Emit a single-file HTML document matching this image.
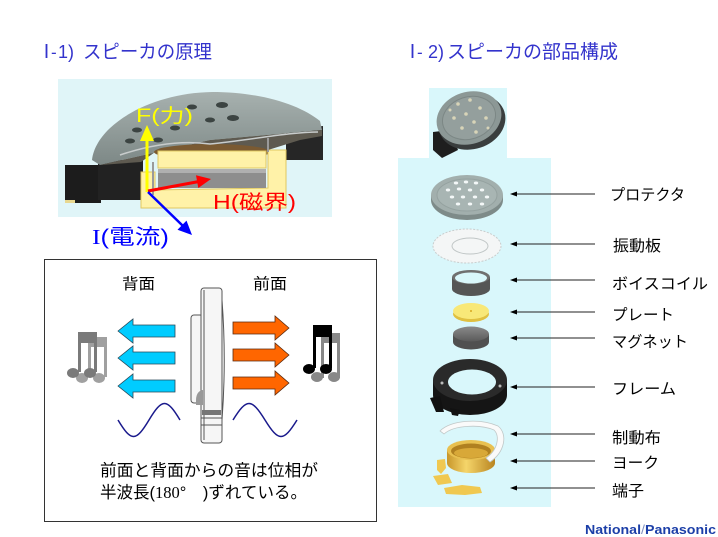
<!DOCTYPE html>
<html><head><meta charset="utf-8"><style>
html,body{margin:0;padding:0;background:#fff;}
svg{display:block;}
text{font-family:"Liberation Sans","Noto Sans CJK JP",sans-serif;}
</style></head><body>
<svg width="718" height="537" viewBox="0 0 718 537" xmlns="http://www.w3.org/2000/svg">
<defs>
<linearGradient id="lid" x1="0" y1="0" x2="0" y2="1"><stop offset="0" stop-color="#a7b1af"/><stop offset="1" stop-color="#7d8886"/></linearGradient>
<linearGradient id="gold" x1="0" y1="0" x2="1" y2="0"><stop offset="0" stop-color="#c8962a"/><stop offset="0.4" stop-color="#f5d56a"/><stop offset="1" stop-color="#b88420"/></linearGradient>
<linearGradient id="mag" x1="0" y1="0" x2="0" y2="1"><stop offset="0" stop-color="#8a8a8a"/><stop offset="1" stop-color="#5a5a5a"/></linearGradient>
</defs>

<!-- Titles -->
<g fill="#3333cc" font-size="19">
<text x="37" y="58" font-family="Liberation Serif,serif">Ⅰ</text>
<text x="51" y="58" font-family="Liberation Serif,serif" font-size="17">-</text>
<text x="58" y="58" font-family="Liberation Serif,serif" font-size="18">1)</text>
<text x="83" y="58" textLength="129" lengthAdjust="spacingAndGlyphs">スピーカの原理</text>
<text x="403" y="58" font-family="Liberation Serif,serif">Ⅰ</text>
<text x="417" y="58" font-family="Liberation Serif,serif" font-size="17">-</text>
<text x="428" y="58" font-family="Liberation Serif,serif" font-size="18">2)</text>
<text x="447" y="58" textLength="171" lengthAdjust="spacingAndGlyphs">スピーカの部品構成</text>
</g>

<!-- Left speaker cross-section image -->
<rect x="58" y="79" width="274" height="138" fill="#e0f5f8"/>
<rect x="65" y="165" width="36" height="38" fill="#1c1c1c"/>
<rect x="65" y="200" width="10" height="3" fill="#e8d890"/>
<rect x="98" y="160" width="45" height="40" fill="#222"/>
<polygon points="286,130 323,126 323,160 286,160" fill="#262626"/>
<path d="M92,160 C96,125 150,93 212,92 C262,92 300,105 320,121 L322,130 L210,140 L100,165 Z" fill="url(#lid)"/>
<path d="M100,165 L210,140 L322,130 L322,136 L300,140 L268,150 L158,150 L141,162 Z" fill="#5e5a50"/>
<ellipse cx="212" cy="152" rx="58" ry="8" fill="#7a5a32"/>
<path d="M120,155 C150,145 180,140 210,144 C250,140 290,132 318,132" stroke="#c8cccc" stroke-width="1.5" fill="none"/>
<g fill="#3c4442">
<ellipse cx="222" cy="105" rx="6" ry="3"/><ellipse cx="192" cy="107" rx="5" ry="2.5"/><ellipse cx="233" cy="118" rx="6" ry="3"/>
<ellipse cx="137" cy="130" rx="5" ry="2.5"/><ellipse cx="130" cy="141" rx="5" ry="2.5"/><ellipse cx="175" cy="128" rx="5" ry="2.5"/>
<ellipse cx="210" cy="120" rx="5" ry="2.5"/><ellipse cx="158" cy="140" rx="5" ry="2.5"/>
</g>
<polygon points="141,172 141,208 286,208 286,150 268,150 268,188 155,190 155,172" fill="#fff2a8" stroke="#e0c860" stroke-width="1"/>
<rect x="158" y="151" width="108" height="17" fill="#fff2a8" stroke="#e0c860" stroke-width="1"/>
<rect x="158" y="169" width="108" height="19" fill="#8e8e8e"/>
<rect x="158" y="169" width="108" height="4" fill="#b0b0b0"/>
<line x1="153" y1="162" x2="153" y2="195" stroke="#9a9a9a" stroke-width="2"/>
<line x1="268" y1="138" x2="268" y2="152" stroke="#9a9a9a" stroke-width="2"/>

<!-- Vector arrows -->
<line x1="147" y1="192" x2="147" y2="138" stroke="#ffff00" stroke-width="3"/>
<polygon points="147,125 140,141 154,141" fill="#ffff00"/>
<line x1="148" y1="191" x2="199" y2="181.5" stroke="#ff0000" stroke-width="3"/>
<polygon points="211,179 198.3,188 196,175.2" fill="#ff0000"/>
<line x1="148" y1="192" x2="183" y2="226" stroke="#0000ff" stroke-width="2.5"/>
<polygon points="192,235 177.5,229.8 186.5,220.6" fill="#0000ff"/>
<text x="136" y="122" font-size="19" fill="#ffff00" textLength="57" lengthAdjust="spacingAndGlyphs">F(力)</text>
<text x="213" y="209" font-size="20" fill="#ff0000" textLength="83" lengthAdjust="spacingAndGlyphs">H(磁界)</text>
<text x="92" y="244" font-size="21" fill="#0000ff" textLength="77" lengthAdjust="spacingAndGlyphs"><tspan font-family="Liberation Serif,serif">I</tspan>(電流)</text>

<!-- Box -->
<rect x="44.5" y="259.5" width="332" height="262" fill="#fff" stroke="#333" stroke-width="1"/>
<text x="122" y="289" font-size="15.5" fill="#000" textLength="33" lengthAdjust="spacingAndGlyphs">背面</text>
<text x="253" y="289" font-size="15.5" fill="#000" textLength="34" lengthAdjust="spacingAndGlyphs">前面</text>

<!-- cyan arrows -->
<g fill="#00ccff" stroke="#2a4a5a" stroke-width="0.8">
<polygon points="118,331 133,319 133,325 175,325 175,337 133,337 133,343"/>
<polygon points="118,358 133,346 133,352 175,352 175,364 133,364 133,370"/>
<polygon points="118,386 133,374 133,380 175,380 175,392 133,392 133,398"/>
</g>
<g fill="#ff6600" stroke="#5a2a10" stroke-width="0.8">
<polygon points="289,328 275,316 275,322 233,322 233,334 275,334 275,340"/>
<polygon points="289,355 275,343 275,349 233,349 233,361 275,361 275,367"/>
<polygon points="289,383 275,371 275,377 233,377 233,389 275,389 275,395"/>
</g>

<!-- notes left (gray) -->
<g fill="#a0a0a0">
<rect x="88" y="337" width="19" height="10"/>
<rect x="88" y="337" width="3" height="40"/><rect x="104" y="337" width="3" height="40"/>
<ellipse cx="82" cy="378" rx="6" ry="5"/><ellipse cx="99" cy="378" rx="6" ry="5"/>
</g>
<g fill="#7a7a7a">
<rect x="78" y="332" width="19" height="11"/>
<rect x="78" y="332" width="3" height="40"/><rect x="94" y="332" width="3" height="40"/>
<ellipse cx="73" cy="373" rx="6" ry="5"/><ellipse cx="90" cy="373" rx="6" ry="5"/>
</g>
<!-- notes right (black) -->
<g fill="#888">
<rect x="321" y="333" width="19" height="10"/>
<rect x="321" y="333" width="3" height="45"/><rect x="337" y="333" width="3" height="45"/>
<ellipse cx="317" cy="377" rx="6" ry="5"/><ellipse cx="334" cy="377" rx="6" ry="5"/>
</g>
<g fill="#000">
<rect x="313" y="325" width="19" height="12"/>
<rect x="313" y="325" width="3" height="43"/><rect x="329" y="325" width="3" height="43"/>
<ellipse cx="309" cy="369" rx="6" ry="5"/><ellipse cx="326" cy="369" rx="6" ry="5"/>
</g>

<!-- sine waves -->
<path d="M118,420 C131.2,442 135.8,442 149,420 C162.2,398 166.8,398 180,420" stroke="#1a1a8c" stroke-width="1.5" fill="none"/>
<path d="M233,420 C246.6,398 251.4,398 265,420 C278.6,442 283.4,442 297,420" stroke="#1a1a8c" stroke-width="1.5" fill="none"/>

<!-- speaker side view -->
<g stroke="#555" stroke-width="1" fill="#f6f6f6">
<rect x="191" y="315" width="12" height="88" rx="3"/>
<rect x="201" y="288" width="21" height="155" rx="3"/>
<line x1="204" y1="290" x2="204" y2="440"/>
<path d="M222,300 C225,340 225,380 222,420" fill="none"/>
<line x1="201" y1="418" x2="222" y2="418"/>
<line x1="201" y1="425" x2="222" y2="425"/>
</g>
<rect x="202" y="410" width="19" height="5" fill="#777"/>
<path d="M196,400 C196,393 200,390 203,390 L203,405 L196,405 Z" fill="#999"/>

<text x="100" y="476" font-size="16.5" fill="#000" textLength="218" lengthAdjust="spacingAndGlyphs">前面と背面からの音は位相が</text>
<text x="100" y="498" font-size="16.5" fill="#000" textLength="207" lengthAdjust="spacingAndGlyphs">半波長(<tspan font-family="Liberation Serif,serif">180</tspan>°　)ずれている。</text>

<!-- Right panel -->
<rect x="429" y="88" width="78" height="71" fill="#d9f7fb"/>
<rect x="398" y="158" width="153" height="349" fill="#d9f7fb"/>

<!-- assembled speaker -->
<path d="M433,132 L450,130 L458,150 L442,158 L433,150 Z" fill="#1e1e1e"/>
<ellipse cx="472" cy="122" rx="34" ry="27" transform="rotate(-18 472 122)" fill="#3a3e3e"/>
<ellipse cx="469" cy="118" rx="33" ry="26" transform="rotate(-18 469 118)" fill="#8c9896"/>
<ellipse cx="469" cy="118" rx="27" ry="21" transform="rotate(-18 469 118)" fill="#949f9d" stroke="#7c8785" stroke-width="1"/>
<g fill="#d8d4b8">
<circle cx="458" cy="104" r="1.8"/><circle cx="470" cy="100" r="1.8"/><circle cx="480" cy="108" r="1.8"/><circle cx="466" cy="114" r="1.8"/>
<circle cx="454" cy="118" r="1.8"/><circle cx="474" cy="122" r="1.8"/><circle cx="486" cy="118" r="1.8"/><circle cx="462" cy="128" r="1.8"/>
<circle cx="476" cy="132" r="1.8"/><circle cx="450" cy="110" r="1.5"/><circle cx="488" cy="128" r="1.5"/>
</g>

<!-- protector -->
<ellipse cx="467" cy="200" rx="36" ry="20" fill="#7e8b89"/>
<rect x="431" y="195" width="72" height="5" fill="#7e8b89"/>
<ellipse cx="467" cy="195" rx="36" ry="20" fill="#a2afad"/>
<ellipse cx="467" cy="195" rx="30" ry="16" fill="#a8b5b3" stroke="#95a2a0" stroke-width="1"/>
<g fill="#f4f8f8">
<ellipse cx="456" cy="183" rx="2.2" ry="1.5"/><ellipse cx="466" cy="182" rx="2.2" ry="1.5"/><ellipse cx="476" cy="183" rx="2.2" ry="1.5"/>
<ellipse cx="448" cy="190" rx="2.2" ry="1.5"/><ellipse cx="459" cy="189" rx="2.2" ry="1.5"/><ellipse cx="470" cy="190" rx="2.2" ry="1.5"/><ellipse cx="482" cy="190" rx="2.2" ry="1.5"/>
<ellipse cx="452" cy="197" rx="2.2" ry="1.5"/><ellipse cx="463" cy="197" rx="2.2" ry="1.5"/><ellipse cx="475" cy="197" rx="2.2" ry="1.5"/><ellipse cx="487" cy="197" rx="2.2" ry="1.5"/>
<ellipse cx="458" cy="204" rx="2.2" ry="1.5"/><ellipse cx="470" cy="204" rx="2.2" ry="1.5"/><ellipse cx="482" cy="204" rx="2.2" ry="1.5"/>
</g>

<!-- diaphragm -->
<ellipse cx="467" cy="246" rx="34" ry="17" fill="#f4f6f6" stroke="#c8cccc" stroke-width="1" stroke-dasharray="2 1.5"/>
<ellipse cx="470" cy="246" rx="18" ry="8" fill="none" stroke="#c0c6c6" stroke-width="1"/>

<!-- voice coil -->
<path d="M452,277 L452,289 A19,7 0 0 0 490,289 L490,277" fill="#555"/>
<ellipse cx="471" cy="277" rx="19" ry="7" fill="#707070"/>
<ellipse cx="471" cy="278" rx="16" ry="5.5" fill="#d9f7fb"/>

<!-- plate -->
<ellipse cx="471" cy="314" rx="18" ry="8" fill="#e0c040"/>
<ellipse cx="471" cy="311" rx="18" ry="8" fill="#f8e878"/>
<circle cx="471" cy="311" r="1" fill="#d8a820"/>

<!-- magnet -->
<path d="M453,334 L453,342 A18,7.5 0 0 0 489,342 L489,334" fill="#505050"/>
<ellipse cx="471" cy="334" rx="18" ry="7.5" fill="url(#mag)"/>

<!-- frame -->
<path d="M433,380 L433,395 A37,20 0 0 0 507,395 L507,380" fill="#151515"/>
<ellipse cx="470" cy="380" rx="37" ry="21" fill="#2a2a2a"/>
<ellipse cx="472" cy="382" rx="24" ry="12.5" fill="#d9f7fb"/>
<path d="M430,398 L440,396 L444,412 L436,412 Z" fill="#111"/>
<path d="M450,408 L460,410 L458,416 L452,415 Z" fill="#111"/>
<circle cx="442" cy="383" r="1.5" fill="#bbb"/><circle cx="500" cy="386" r="1.5" fill="#bbb"/>

<!-- yoke -->
<path d="M447,450 L447,463 A24,10 0 0 0 495,463 L495,450" fill="url(#gold)"/>
<ellipse cx="471" cy="450" rx="24" ry="10" fill="#e8c050"/>
<ellipse cx="471" cy="451" rx="20" ry="7.5" fill="#b08020"/>
<ellipse cx="471" cy="453" rx="17" ry="5" fill="#d8a838"/>

<!-- damper -->
<path d="M440,431 C450,420 480,418 498,426 C508,434 505,452 490,462 L486,458 C498,450 500,436 494,430 C480,424 454,425 444,434 Z" fill="#fafafa" stroke="#c0c8c8" stroke-width="0.8"/>

<!-- terminals -->
<g fill="#f0c850">
<path d="M437,460 L445,459 L446,468 L441,474 L437,470 Z"/>
<path d="M433,476 L448,474 L452,483 L438,485 Z"/>
<path d="M444,488 L462,485 L480,487 L482,493 L465,495 L446,494 Z"/>
</g>

<!-- label arrows -->
<g stroke="#222" stroke-width="1" fill="#000">
<line x1="514" y1="194" x2="595" y2="194"/><polygon points="510,194 517,191.5 517,196.5" stroke="none"/>
<line x1="514" y1="244" x2="595" y2="244"/><polygon points="510,244 517,241.5 517,246.5" stroke="none"/>
<line x1="514" y1="280" x2="595" y2="280"/><polygon points="510,280 517,277.5 517,282.5" stroke="none"/>
<line x1="514" y1="312" x2="595" y2="312"/><polygon points="510,312 517,309.5 517,314.5" stroke="none"/>
<line x1="514" y1="338" x2="595" y2="338"/><polygon points="510,338 517,335.5 517,340.5" stroke="none"/>
<line x1="514" y1="387" x2="595" y2="387"/><polygon points="510,387 517,384.5 517,389.5" stroke="none"/>
<line x1="514" y1="434" x2="595" y2="434"/><polygon points="510,434 517,431.5 517,436.5" stroke="none"/>
<line x1="514" y1="461" x2="595" y2="461"/><polygon points="510,461 517,458.5 517,463.5" stroke="none"/>
<line x1="514" y1="488" x2="595" y2="488"/><polygon points="510,488 517,485.5 517,490.5" stroke="none"/>
</g>
<g font-size="15.5" fill="#000">
<text x="610" y="200" textLength="75" lengthAdjust="spacingAndGlyphs">プロテクタ</text>
<text x="613" y="251" textLength="48" lengthAdjust="spacingAndGlyphs">振動板</text>
<text x="612" y="289" textLength="96" lengthAdjust="spacingAndGlyphs">ボイスコイル</text>
<text x="612" y="320" textLength="62" lengthAdjust="spacingAndGlyphs">プレート</text>
<text x="612" y="347" textLength="76" lengthAdjust="spacingAndGlyphs">マグネット</text>
<text x="612" y="394" textLength="64" lengthAdjust="spacingAndGlyphs">フレーム</text>
<text x="612" y="443" textLength="49" lengthAdjust="spacingAndGlyphs">制動布</text>
<text x="612" y="468" textLength="47" lengthAdjust="spacingAndGlyphs">ヨーク</text>
<text x="612" y="496" textLength="32" lengthAdjust="spacingAndGlyphs">端子</text>
</g>

<text x="585" y="534" font-size="12.5" font-weight="bold" fill="#1c3fa8" textLength="131" lengthAdjust="spacingAndGlyphs">National<tspan fill="#8090c0" font-weight="normal">/</tspan>Panasonic</text>
</svg>
</body></html>
